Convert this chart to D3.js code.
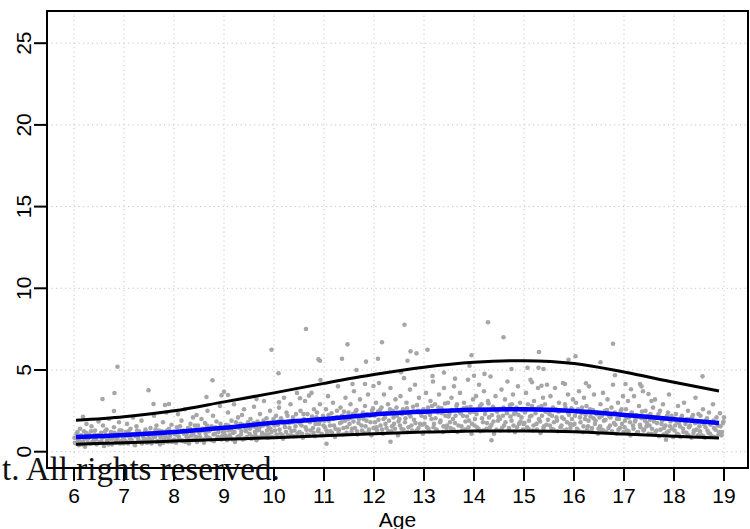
<!DOCTYPE html>
<html>
<head>
<meta charset="utf-8">
<script src="https://cdn.jsdelivr.net/npm/d3@7"></script>
<style>
  html, body { margin: 0; padding: 0; background: #fff; }
  svg { display: block; }
</style>
</head>
<body>
<svg id="chart" width="750" height="529"></svg>
<script>
// ---------------- data ----------------
const xTicks = [6,7,8,9,10,11,12,13,14,15,16,17,18,19];
const yTicks = [0,5,10,15,20,25];
const xLabel = "Age";
const overlayText = "t. All rights reserved.";

const curveAges   = [6.04,7,8,9,10,11,12,13,14,15,16,17,18,18.9];
const upperCurve  = [1.92,2.14,2.5,3.05,3.6,4.18,4.72,5.17,5.47,5.57,5.4,4.88,4.25,3.72];
const medianCurve = [0.9,1.02,1.2,1.46,1.77,2.0,2.28,2.45,2.57,2.6,2.49,2.25,1.99,1.76];
const lowerCurve  = [0.46,0.55,0.65,0.76,0.86,0.98,1.1,1.2,1.26,1.27,1.22,1.08,0.94,0.84];

const outlierPoints = [
[6.87,5.2],[6.57,3.22],[6.81,3.59],[7.49,3.76],[7.59,2.92],[8.77,4.37],[8.65,3.35],[8.95,3.45],
[6.18,2.14],[6.8,2.49],[7.82,2.86],[7.9,2.92],[8.45,2.25],[9.0,3.67],[9.08,3.47],
[10.64,7.51],[9.95,6.24],[10.09,4.8],[10.89,5.65],[10.92,5.57],[11.47,6.57],[11.36,5.69],[11.84,5.51],
[11.65,5.0],[12.16,6.7],[12.08,5.69],[10.93,4.39],[11.57,4.14],[11.82,4.14],[11.99,4.02],[10.7,3.43],
[10.1,3.02],[10.52,3.27],[11.05,0.49],[12.33,0.61],[9.65,3.22],
[14.28,7.92],[14.59,7.0],[12.61,7.77],[12.73,6.14],[12.85,6.02],[13.07,6.24],[12.67,5.57],[13.95,5.9],
[15.3,6.1],[13.91,5.26],[15.07,5.14],[15.29,5.14],[15.39,5.06],[14.75,5.06],[14.35,0.7],[12.54,4.86],
[13.17,4.63],[13.62,4.47],[13.4,4.84],[14.0,4.65],[14.21,4.76],[15.16,4.25],[15.35,4.04],
[16.78,6.61],[16.53,5.47],[15.89,5.63],[16.03,5.84],[16.82,4.68],[18.57,4.61],[16.24,4.19],[17.03,4.14],
[17.14,3.82],[17.32,4.14],[17.35,4.0],[15.82,4.14],[17.49,3.53],[17.55,3.1],[17.84,0.73]
];
const bodyPoints = [
[6.02,0.55],[6.05,1.1],[6.08,0.75],[6.1,0.4],[6.12,1.4],[6.15,0.9],[6.18,0.6],[6.2,1.25],[6.22,0.3],[6.25,1.7],[6.28,0.8],[6.3,1.05],[6.33,0.5],[6.35,1.55],[6.38,0.95],[6.4,0.7],[6.42,1.3],[6.45,0.45],[6.47,1.0],[6.49,1.85],
[6.52,0.6],[6.54,1.15],[6.56,0.85],[6.58,1.6],[6.6,0.35],[6.63,1.0],[6.65,1.35],[6.67,0.55],[6.7,2.0],[6.72,0.8],[6.74,1.2],[6.76,0.45],[6.8,1.5],[6.82,0.95],[6.85,0.7],[6.88,1.1],[6.9,1.8],[6.92,0.5],[6.95,1.3],[6.98,0.9],
[7.02,0.65],[7.04,1.2],[7.06,1.7],[7.08,0.5],[7.1,0.95],[7.13,1.4],[7.15,0.75],[7.18,2.1],[7.2,1.05],[7.22,0.4],[7.25,1.55],[7.28,0.85],[7.3,1.25],[7.33,0.6],[7.35,1.9],[7.38,1.0],[7.4,0.7],[7.43,1.35],[7.46,0.55],[7.48,1.15],
[7.51,0.8],[7.53,1.45],[7.55,0.5],[7.58,1.1],[7.6,2.2],[7.62,0.9],[7.65,1.6],[7.67,0.65],[7.7,1.3],[7.72,0.45],[7.75,1.0],[7.78,1.8],[7.8,0.75],[7.82,1.2],[7.85,2.4],[7.88,0.6],[7.9,1.4],[7.92,0.95],[7.95,1.65],[7.98,0.7],
[8.02,1.05],[8.04,0.55],[8.06,1.5],[8.08,2.3],[8.1,0.8],[8.13,1.25],[8.15,1.9],[8.18,0.65],[8.2,1.1],[8.22,2.6],[8.25,0.9],[8.28,1.45],[8.3,0.5],[8.33,1.7],[8.35,1.0],[8.38,2.1],[8.4,0.75],[8.43,1.35],[8.46,0.6],[8.48,1.6],
[8.51,1.15],[8.53,0.7],[8.55,2.0],[8.58,1.4],[8.6,0.55],[8.62,1.75],[8.65,0.95],[8.67,2.5],[8.7,1.25],[8.72,0.8],[8.75,1.55],[8.78,2.2],[8.8,0.65],[8.82,1.1],[8.85,1.85],[8.88,0.9],[8.9,1.4],[8.92,2.8],[8.95,0.75],[8.98,1.2],
[9.02,1.0],[9.04,1.65],[9.06,0.7],[9.08,2.4],[9.1,1.3],[9.13,0.85],[9.15,1.9],[9.18,1.15],[9.2,2.9],[9.22,0.6],[9.25,1.5],[9.28,2.1],[9.3,0.95],[9.33,1.7],[9.35,1.25],[9.38,0.75],[9.4,2.6],[9.43,1.4],[9.46,0.9],[9.48,1.8],[9.12,1.45],[9.36,2.25],
[9.51,1.1],[9.53,2.0],[9.55,0.8],[9.58,1.55],[9.6,2.75],[9.62,1.2],[9.65,0.7],[9.67,1.85],[9.7,1.35],[9.72,2.3],[9.75,0.95],[9.78,1.6],[9.8,3.1],[9.82,1.05],[9.85,2.05],[9.88,0.85],[9.9,1.45],[9.92,2.5],[9.95,1.2],[9.98,1.75],[9.64,1.5],[9.86,1.3],
[10.02,1.3],[10.04,2.2],[10.06,0.9],[10.08,1.65],[10.1,2.7],[10.13,1.1],[10.15,1.9],[10.18,0.8],[10.2,3.3],[10.22,1.5],[10.25,2.4],[10.28,1.0],[10.3,1.75],[10.33,2.9],[10.35,1.25],[10.38,2.1],[10.4,0.95],[10.43,1.55],[10.46,3.6],[10.48,1.85],
[10.51,1.2],[10.53,2.5],[10.55,1.6],[10.58,0.85],[10.6,2.0],[10.62,3.1],[10.65,1.35],[10.67,2.3],[10.7,1.0],[10.72,1.8],[10.75,3.6],[10.78,1.45],[10.8,2.6],[10.82,0.95],[10.85,2.1],[10.88,1.25],[10.9,1.7],[10.92,2.9],[10.95,1.1],[10.98,2.2],
[11.02,1.5],[11.04,2.6],[11.06,1.1],[11.08,3.4],[11.1,1.9],[11.13,1.25],[11.15,2.35],[11.18,3.0],[11.2,1.6],[11.22,0.9],[11.25,2.1],[11.28,4.0],[11.3,1.35],[11.33,2.7],[11.35,1.8],[11.38,1.05],[11.4,2.45],[11.43,3.3],[11.46,1.5],[11.48,2.0],
[11.51,1.7],[11.53,2.9],[11.55,1.2],[11.58,2.3],[11.6,3.7],[11.62,1.45],[11.65,2.55],[11.67,1.05],[11.7,2.0],[11.72,3.2],[11.75,1.6],[11.78,2.4],[11.8,1.15],[11.82,2.8],[11.85,1.9],[11.88,3.5],[11.9,1.35],[11.92,2.2],[11.95,1.0],[11.98,2.65],
[12.02,1.8],[12.04,3.0],[12.06,1.3],[12.08,2.45],[12.1,4.2],[12.13,1.6],[12.15,2.7],[12.18,1.1],[12.2,3.5],[12.22,2.1],[12.25,1.45],[12.28,2.9],[12.3,1.9],[12.33,3.9],[12.35,1.25],[12.38,2.5],[12.4,1.7],[12.43,3.2],[12.46,2.2],[12.48,1.0],
[12.51,2.0],[12.53,3.4],[12.55,1.4],[12.58,2.6],[12.6,4.5],[12.62,1.8],[12.65,3.0],[12.67,1.2],[12.7,2.3],[12.72,3.8],[12.75,1.6],[12.78,2.75],[12.8,1.95],[12.82,4.1],[12.85,1.3],[12.88,2.5],[12.9,3.3],[12.92,1.7],[12.95,2.2],[12.98,1.1],
[13.02,2.1],[13.04,3.6],[13.06,1.5],[13.08,2.7],[13.1,1.25],[13.13,3.1],[13.15,2.0],[13.18,4.3],[13.2,1.7],[13.22,2.9],[13.25,1.35],[13.28,2.4],[13.3,3.5],[13.33,1.9],[13.35,2.65],[13.38,1.2],[13.4,3.9],[13.43,2.2],[13.46,1.6],[13.48,3.0],
[13.51,2.3],[13.53,1.45],[13.55,3.3],[13.58,2.0],[13.6,4.0],[13.62,1.75],[13.65,2.8],[13.67,1.2],[13.7,2.5],[13.72,3.6],[13.75,1.55],[13.78,2.2],[13.8,3.0],[13.82,1.35],[13.85,2.7],[13.88,4.4],[13.9,1.9],[13.92,2.4],[13.95,1.1],[13.98,3.2],
[14.02,2.0],[14.04,3.4],[14.06,1.5],[14.08,2.6],[14.1,4.1],[14.13,1.25],[14.15,2.9],[14.18,1.8],[14.2,3.7],[14.22,2.3],[14.25,1.4],[14.28,3.1],[14.3,2.1],[14.33,4.6],[14.35,1.65],[14.38,2.75],[14.4,1.1],[14.43,3.4],[14.46,2.45],[14.48,1.9],
[14.51,2.6],[14.53,1.3],[14.55,3.8],[14.58,2.2],[14.6,1.6],[14.62,3.2],[14.65,2.5],[14.67,4.3],[14.7,1.45],[14.72,2.85],[14.75,1.9],[14.78,3.5],[14.8,2.3],[14.82,1.2],[14.85,2.7],[14.88,4.0],[14.9,1.7],[14.92,3.0],[14.95,2.1],[14.98,1.35],
[15.02,2.4],[15.04,3.6],[15.06,1.5],[15.08,2.9],[15.1,1.9],[15.13,4.4],[15.15,2.2],[15.18,1.3],[15.2,3.1],[15.22,2.6],[15.25,1.7],[15.28,3.9],[15.3,2.0],[15.33,1.15],[15.35,2.8],[15.38,3.3],[15.4,1.55],[15.43,2.45],[15.46,4.1],[15.48,1.95],
[15.51,2.3],[15.53,3.4],[15.55,1.4],[15.58,2.7],[15.6,1.8],[15.62,3.9],[15.65,2.1],[15.67,1.25],[15.7,3.0],[15.72,2.5],[15.75,1.6],[15.78,4.2],[15.8,2.0],[15.82,2.9],[15.85,1.35],[15.88,3.5],[15.9,2.25],[15.92,1.7],[15.95,2.65],[15.98,3.2],
[16.02,2.2],[16.04,3.0],[16.06,1.4],[16.08,2.6],[16.1,3.7],[16.13,1.8],[16.15,2.35],[16.18,1.2],[16.2,3.3],[16.22,2.0],[16.25,2.8],[16.28,1.55],[16.3,4.0],[16.33,2.15],[16.35,1.3],[16.38,2.55],[16.4,3.5],[16.43,1.9],[16.46,2.4],[16.48,1.1],
[16.51,2.1],[16.53,2.9],[16.55,1.35],[16.58,3.6],[16.6,1.9],[16.62,2.5],[16.65,1.2],[16.67,3.2],[16.7,2.2],[16.72,1.6],[16.75,2.7],[16.78,4.1],[16.8,1.75],[16.82,2.4],[16.85,1.1],[16.88,3.0],[16.9,2.0],[16.92,1.45],[16.95,2.6],[16.98,3.4],
[17.02,1.9],[17.04,2.6],[17.06,1.3],[17.08,3.1],[17.1,2.1],[17.13,1.0],[17.15,2.4],[17.18,1.6],[17.2,3.4],[17.22,1.85],[17.25,2.25],[17.28,1.2],[17.3,2.8],[17.33,1.5],[17.35,2.05],[17.38,3.7],[17.4,1.35],[17.43,2.5],[17.46,1.75],[17.48,2.2],
[17.51,1.6],[17.53,2.3],[17.55,1.1],[17.58,2.7],[17.6,1.85],[17.62,3.2],[17.65,1.3],[17.67,2.15],[17.7,0.95],[17.72,2.5],[17.75,1.7],[17.78,2.9],[17.8,1.45],[17.82,2.0],[17.85,1.15],[17.88,2.4],[17.9,3.5],[17.92,1.55],[17.95,2.2],[17.98,0.9],
[18.02,1.6],[18.04,2.3],[18.06,1.1],[18.08,2.8],[18.1,1.75],[18.13,0.9],[18.15,2.1],[18.18,1.4],[18.2,3.0],[18.22,1.9],[18.25,1.15],[18.28,2.5],[18.3,1.5],[18.33,2.0],[18.35,0.85],[18.38,2.25],[18.4,1.3],[18.43,3.3],[18.46,1.8],[18.48,1.0],
[18.51,1.55],[18.53,2.2],[18.55,1.0],[18.58,2.6],[18.6,1.7],[18.62,0.85],[18.65,1.95],[18.67,1.3],[18.7,2.4],[18.72,1.1],[18.75,1.8],[18.78,2.9],[18.8,1.45],[18.82,0.9],[18.85,2.1],[18.88,1.6],[18.9,1.2],[18.92,2.35],[18.95,1.0],[18.98,1.75],[19.0,2.1]
];
// denser core of the cloud, between the lower and median curves
const corePoints = [
[6.01,0.85],[6.04,0.5],[6.07,1.2],[6.11,0.65],[6.14,1.0],[6.17,0.45],[6.21,0.8],[6.24,1.15],[6.27,0.55],[6.31,0.9],[6.34,1.25],[6.37,0.6],[6.41,1.05],[6.44,0.75],[6.48,0.5],
[6.51,1.0],[6.55,0.6],[6.59,0.9],[6.62,1.25],[6.66,0.7],[6.69,0.45],[6.73,1.05],[6.77,0.8],[6.81,1.15],[6.84,0.55],[6.87,0.85],[6.91,1.3],[6.94,0.65],[6.97,1.05],[6.99,0.5],
[7.01,0.9],[7.05,0.6],[7.09,1.25],[7.12,0.8],[7.16,1.05],[7.19,0.55],[7.23,0.95],[7.26,1.3],[7.29,0.7],[7.32,1.1],[7.36,0.5],[7.39,0.85],[7.42,1.2],[7.45,0.75],[7.49,1.0],
[7.52,1.15],[7.56,0.7],[7.59,0.95],[7.63,1.35],[7.66,0.6],[7.69,1.05],[7.73,0.85],[7.76,1.25],[7.79,0.55],[7.83,0.95],[7.86,1.3],[7.89,0.8],[7.93,1.1],[7.96,0.6],[7.99,1.2],
[8.01,0.75],[8.05,1.2],[8.09,0.95],[8.12,1.55],[8.16,0.7],[8.19,1.3],[8.23,0.6],[8.26,1.15],[8.29,0.85],[8.32,1.4],[8.36,0.7],[8.39,1.05],[8.42,1.6],[8.45,0.9],[8.49,1.25],
[8.52,0.9],[8.56,1.3],[8.59,0.75],[8.63,1.15],[8.66,1.6],[8.69,0.85],[8.73,1.35],[8.76,0.7],[8.79,1.05],[8.83,1.5],[8.86,0.8],[8.89,1.2],[8.93,1.7],[8.96,0.95],[8.99,1.45],
[9.01,1.25],[9.05,0.85],[9.09,1.6],[9.11,1.0],[9.14,1.35],[9.17,0.75],[9.21,1.2],[9.24,1.8],[9.27,0.9],[9.31,1.45],[9.34,1.05],[9.37,1.65],[9.41,0.8],[9.44,1.25],[9.47,1.55],
[9.52,1.4],[9.56,0.95],[9.59,1.75],[9.63,1.0],[9.66,1.3],[9.69,0.85],[9.73,1.55],[9.76,1.15],[9.79,1.9],[9.83,0.9],[9.87,1.6],[9.89,1.05],[9.93,1.4],[9.96,0.9],[9.99,2.0],
[10.01,1.6],[10.05,1.05],[10.09,1.85],[10.11,1.35],[10.14,2.05],[10.17,1.0],[10.21,1.7],[10.24,1.2],[10.27,2.2],[10.31,1.45],[10.34,1.0],[10.37,1.8],[10.41,1.3],[10.44,2.3],[10.47,1.1],
[10.52,1.75],[10.56,1.1],[10.59,2.3],[10.63,1.5],[10.66,1.05],[10.69,1.9],[10.73,1.3],[10.76,2.15],[10.79,1.15],[10.83,1.7],[10.86,2.4],[10.89,1.35],[10.93,1.9],[10.96,1.0],[10.99,1.6],
[11.01,1.9],[11.05,1.3],[11.09,2.25],[11.12,1.6],[11.16,1.15],[11.19,2.0],[11.23,1.4],[11.26,2.5],[11.29,1.2],[11.32,1.75],[11.36,2.2],[11.39,1.45],[11.42,1.9],[11.45,1.15],[11.49,2.4],
[11.52,2.05],[11.56,1.4],[11.59,1.85],[11.63,2.45],[11.66,1.25],[11.69,1.75],[11.73,2.15],[11.76,1.3],[11.79,2.0],[11.83,1.55],[11.86,2.3],[11.89,1.2],[11.93,1.8],[11.96,2.5],[11.99,1.45],
[12.01,2.2],[12.05,1.5],[12.09,1.95],[12.12,2.55],[12.16,1.35],[12.19,2.0],[12.23,1.7],[12.26,2.35],[12.29,1.25],[12.32,2.6],[12.36,1.55],[12.39,2.1],[12.42,1.4],[12.45,2.7],[12.49,1.85],
[12.52,1.6],[12.56,2.3],[12.59,1.35],[12.63,2.05],[12.66,2.65],[12.69,1.5],[12.73,2.15],[12.76,1.3],[12.79,2.45],[12.83,1.75],[12.86,2.85],[12.89,1.45],[12.93,2.35],[12.96,1.65],[12.99,2.6],
[13.01,1.7],[13.05,2.4],[13.09,1.4],[13.12,2.25],[13.16,2.8],[13.19,1.5],[13.23,2.05],[13.26,1.3],[13.29,2.7],[13.32,1.8],[13.36,2.35],[13.39,1.55],[13.42,2.95],[13.45,1.45],[13.49,2.15],
[13.52,1.8],[13.56,2.55],[13.59,1.35],[13.63,2.2],[13.66,2.9],[13.69,1.6],[13.73,2.35],[13.76,1.3],[13.79,2.65],[13.83,1.85],[13.86,2.15],[13.89,1.5],[13.93,2.75],[13.96,1.7],[13.99,2.45],
[14.01,1.6],[14.05,2.3],[14.09,1.4],[14.12,2.8],[14.16,2.05],[14.19,1.3],[14.23,2.5],[14.26,1.75],[14.29,2.95],[14.32,1.5],[14.36,2.25],[14.39,1.85],[14.42,2.6],[14.45,1.35],[14.49,2.15],
[14.52,2.0],[14.56,1.45],[14.59,2.7],[14.63,1.8],[14.66,2.35],[14.69,1.3],[14.73,2.15],[14.76,2.9],[14.79,1.6],[14.83,2.4],[14.86,1.5],[14.89,2.25],[14.93,1.85],[14.96,2.55],[14.99,1.7],
[15.01,1.75],[15.05,2.55],[15.09,1.4],[15.12,2.15],[15.16,2.8],[15.19,1.6],[15.23,2.35],[15.26,1.35],[15.29,2.7],[15.32,1.85],[15.36,2.2],[15.39,1.45],[15.42,2.9],[15.45,1.65],[15.49,2.4],
[15.52,1.6],[15.56,2.2],[15.59,1.35],[15.63,2.6],[15.66,1.9],[15.69,2.45],[15.73,1.5],[15.76,2.1],[15.79,1.3],[15.83,2.7],[15.86,1.8],[15.89,2.35],[15.93,1.45],[15.96,2.0],[15.99,1.65],
[16.01,1.7],[16.05,2.45],[16.09,1.3],[16.12,2.1],[16.16,2.7],[16.19,1.55],[16.23,2.25],[16.26,1.35],[16.29,1.9],[16.32,2.6],[16.36,1.45],[16.39,2.05],[16.42,1.7],[16.45,2.3],[16.49,1.4],
[16.52,1.55],[16.56,2.2],[16.59,1.3],[16.63,1.95],[16.66,2.55],[16.69,1.45],[16.73,2.1],[16.76,1.25],[16.79,2.3],[16.83,1.65],[16.86,2.0],[16.89,1.35],[16.93,2.45],[16.96,1.7],[16.99,1.2],
[17.01,1.5],[17.05,2.1],[17.09,1.25],[17.12,1.8],[17.16,2.35],[17.19,1.4],[17.23,1.95],[17.26,1.15],[17.29,2.15],[17.32,1.65],[17.36,2.45],[17.39,1.3],[17.42,1.9],[17.45,1.55],[17.49,1.1],
[17.52,1.95],[17.56,1.4],[17.59,2.1],[17.63,1.2],[17.66,1.75],[17.69,2.3],[17.73,1.35],[17.76,1.9],[17.79,1.05],[17.83,1.6],[17.86,2.2],[17.89,1.25],[17.93,1.85],[17.96,1.4],[17.99,2.05],
[18.01,1.3],[18.05,1.85],[18.09,1.05],[18.12,1.55],[18.16,2.2],[18.19,1.2],[18.23,1.7],[18.26,2.0],[18.29,1.0],[18.32,1.6],[18.36,2.1],[18.39,1.15],[18.42,1.75],[18.45,1.35],[18.49,2.3],
[18.52,1.25],[18.56,1.85],[18.59,0.95],[18.63,1.5],[18.66,2.05],[18.69,1.15],[18.73,1.65],[18.76,0.95],[18.79,1.9],[18.83,1.35],[18.86,1.7],[18.89,1.05],[18.93,1.55],[18.96,1.2],[18.99,1.85]
];

// ---------------- layout ----------------
const box = {left: 47, top: 11, right: 748, bottom: 468};
const svg = d3.select("#chart");
const x = d3.scaleLinear().domain([6, 19]).range([74, 724]);
const y = d3.scaleLinear().domain([0, 25]).range([451.7, 43.2]);
const sansFont = "'Liberation Sans', Arial, Helvetica, sans-serif";

// grid
const grid = svg.append("g").attr("stroke", "#c4c4c4").attr("stroke-width", 1)
  .attr("stroke-dasharray", "1.2,3.3");
grid.selectAll("line.v").data(xTicks).enter().append("line")
  .attr("x1", d => x(d)).attr("x2", d => x(d))
  .attr("y1", box.top).attr("y2", box.bottom);
grid.selectAll("line.h").data(yTicks).enter().append("line")
  .attr("x1", box.left).attr("x2", box.right)
  .attr("y1", d => y(d)).attr("y2", d => y(d));

// points
const allPoints = bodyPoints.concat(corePoints, outlierPoints);
svg.append("g").selectAll("circle").data(allPoints).enter().append("circle")
  .attr("cx", d => x(d[0])).attr("cy", d => y(d[1]))
  .attr("r", 2.3).attr("fill", "#a6a6a6");

// curves
function curveLine(vals) {
  return d3.line().x((d, i) => x(curveAges[i])).y(d => y(d)).curve(d3.curveCatmullRom)(vals);
}
svg.append("path").attr("d", curveLine(upperCurve)).attr("fill", "none")
  .attr("stroke", "#000").attr("stroke-width", 3);
svg.append("path").attr("d", curveLine(lowerCurve)).attr("fill", "none")
  .attr("stroke", "#000").attr("stroke-width", 3);
svg.append("path").attr("d", curveLine(medianCurve)).attr("fill", "none")
  .attr("stroke", "#0000ff").attr("stroke-width", 4.5);

// overlay text
svg.append("text").attr("x", 2).attr("y", 480)
  .attr("font-family", "'Liberation Serif', 'Times New Roman', serif")
  .attr("font-size", 33).attr("fill", "#111")
  .text(overlayText);

// box
svg.append("rect").attr("x", box.left).attr("y", box.top)
  .attr("width", box.right - box.left).attr("height", box.bottom - box.top)
  .attr("fill", "none").attr("stroke", "#000").attr("stroke-width", 2);

// x axis ticks & labels
const xa = svg.append("g");
xa.selectAll("line").data(xTicks).enter().append("line")
  .attr("x1", d => x(d)).attr("x2", d => x(d))
  .attr("y1", box.bottom).attr("y2", 481)
  .attr("stroke", "#000").attr("stroke-width", 2);
xa.selectAll("text").data(xTicks).enter().append("text")
  .attr("x", d => x(d)).attr("y", 503)
  .attr("text-anchor", "middle").attr("font-family", sansFont)
  .attr("font-size", 21).attr("fill", "#000")
  .text(d => d);

// y axis ticks & labels
const ya = svg.append("g");
ya.selectAll("line").data(yTicks).enter().append("line")
  .attr("x1", 34).attr("x2", box.left)
  .attr("y1", d => y(d)).attr("y2", d => y(d))
  .attr("stroke", "#000").attr("stroke-width", 2);
ya.selectAll("text").data(yTicks).enter().append("text")
  .attr("transform", d => `translate(31,${y(d)}) rotate(-90)`)
  .attr("text-anchor", "middle").attr("font-family", sansFont)
  .attr("font-size", 21).attr("fill", "#000")
  .text(d => d);

// x label
svg.append("text").attr("x", (box.left + box.right) / 2).attr("y", 527)
  .attr("text-anchor", "middle").attr("font-family", sansFont)
  .attr("font-size", 21).attr("fill", "#000")
  .text(xLabel);
</script>
</body>
</html>
